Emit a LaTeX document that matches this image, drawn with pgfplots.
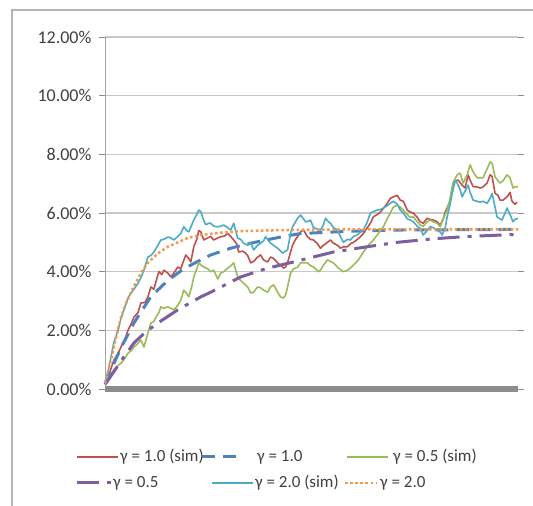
\documentclass[border=0pt]{standalone}
\usepackage{pgfplots}
\pgfplotsset{compat=1.18}
\usepackage{pgfplotstable}
\usepackage{fontspec}
\setmainfont{Carlito}

\definecolor{cRed}{HTML}{C0504D}
\definecolor{cBlue}{HTML}{4F81BD}
\definecolor{cGreen}{HTML}{9BBB59}
\definecolor{cPurple}{HTML}{7D5FA0}
\definecolor{cCyan}{HTML}{4BACC6}
\definecolor{cOrange}{HTML}{F79646}
\definecolor{cText}{HTML}{404040}
\definecolor{cGrid}{HTML}{C8C8C8}
\definecolor{cAxis}{HTML}{8C8C8C}

% theoretical curves (t, rate in %)
\pgfplotstableread{
t rate
104 0.2
110 1.0
114 1.6
120 2.45
126 3.0
133 3.5
140 3.95
147 4.3
157 4.62
167 4.85
177 5.0
187 5.15
200 5.25
220 5.33
240 5.38
270 5.41
304 5.43
354 5.44
404 5.44
518 5.44
}\theoryTwo

\pgfplotstableread{
t rate
104 0.2
110 0.65
120 1.4
133 2.25
150 3.15
167 3.7
183 4.1
200 4.4
210 4.57
230 4.8
250 4.97
280 5.18
300 5.3
350 5.38
400 5.42
518 5.44
}\theoryOne

\pgfplotstableread{
t rate
104 0.15
110 0.45
120 0.95
133 1.57
145 1.95
157 2.25
177 2.7
200 3.14
210 3.3
240 3.82
267 4.12
293 4.33
307 4.45
333 4.67
367 4.85
397 5.0
433 5.12
467 5.2
510 5.26
518 5.27
}\theoryHalf

% simulated paths
\pgfplotstableread{
t rate
104 0.2
108 0.5
113 0.99
117 1.2
120 1.43
124 1.7
127 2.0
130 2.2
133 2.45
137 2.6
140 2.93
144 2.95
147 3.14
150 3.48
153 3.4
155 3.65
158 4.0
161 3.9
163 4.05
167 3.95
170 3.82
174 4.0
177 4.16
180 4.1
182 4.3
185 4.57
188 4.45
190 4.33
193 4.85
196 5.1
198 5.4
200 5.36
203 5.08
207 5.15
210 5.2
213 5.08
217 5.15
220 5.19
224 5.22
227 5.3
230 5.2
233 5.08
236 4.95
238 4.67
242 4.7
245 4.63
247 4.55
250 4.3
253 4.35
257 4.5
260 4.57
263 4.4
267 4.33
270 4.5
273 4.45
277 4.3
280 4.22
283 4.12
285 4.16
287 4.3
290 4.67
292 4.9
295 5.1
297 5.19
300 5.36
303 5.42
307 5.19
310 5.1
313 5.08
317 4.95
320 4.8
323 4.9
327 5.0
330 5.08
333 4.97
337 4.9
340 4.8
343 4.85
347 4.85
350 4.95
353 5.0
357 5.1
360 5.19
363 5.3
367 5.5
370 5.65
373 5.87
377 5.95
380 6.03
384 6.2
387 6.33
390 6.5
393 6.55
397 6.6
400 6.44
403 6.4
407 6.1
410 6.03
413 6.0
417 5.85
420 5.7
423 5.65
427 5.82
430 5.78
433 5.76
437 5.7
440 5.59
443 5.8
445 6.03
448 6.25
450 6.44
453 7.02
455 7.1
458 7.12
462 6.95
465 6.85
468 7.3
470 7.12
473 6.9
477 6.89
480 6.85
483 6.89
487 7.02
490 7.3
492 7.25
495 6.67
498 6.6
500 6.44
503 6.44
507 6.55
510 6.7
512 6.4
515 6.3
517 6.37
}\simOne

\pgfplotstableread{
t rate
104 0.15
108 0.4
113 0.65
117 0.8
120 0.88
124 1.05
127 1.22
130 1.3
133 1.43
137 1.55
140 1.67
143 1.43
147 1.9
150 2.25
153 2.3
155 2.45
158 2.6
160 2.8
163 2.75
167 2.8
170 2.75
173 2.7
177 2.85
180 3.03
183 3.37
186 3.25
188 3.14
191 3.5
193 3.82
196 4.1
198 4.3
201 4.2
203 4.16
207 4.1
210 4.0
213 4.05
217 3.75
220 3.95
223 4.0
227 4.12
230 4.2
233 4.3
237 3.82
240 3.7
243 3.6
247 3.48
250 3.27
253 3.3
257 3.48
260 3.45
263 3.37
267 3.3
270 3.48
273 3.55
277 3.3
280 3.14
283 3.1
285 3.2
287 3.48
290 3.95
293 4.1
297 4.15
300 4.3
303 4.3
307 4.3
310 4.2
313 4.16
318 4.0
320 4.05
323 4.22
327 4.4
330 4.35
333 4.3
338 4.12
343 4.0
347 4.05
350 4.12
353 4.22
358 4.4
363 4.67
368 4.9
373 5.08
378 5.3
383 5.53
388 5.87
393 6.2
397 6.27
400 6.2
403 6.1
407 5.95
410 5.85
413 5.87
417 5.7
420 5.59
423 5.55
427 5.7
430 5.76
433 5.7
437 5.65
440 5.53
443 5.8
447 6.1
450 6.5
453 7.05
457 7.3
460 7.36
463 7.02
467 7.3
470 7.64
473 7.4
477 7.2
480 7.2
483 7.2
487 7.5
490 7.74
492 7.7
495 7.23
498 7.1
500 7.02
503 7.1
507 7.3
510 7.2
513 6.85
515 6.9
518 6.89
}\simHalf

\pgfplotstableread{
t rate
104 0.2
107 0.6
110 1.1
113 1.6
117 2.0
120 2.4
123 2.7
127 3.1
130 3.27
133 3.4
137 3.6
140 3.8
143 4.05
147 4.5
150 4.55
153 4.67
157 4.9
160 5.08
163 5.1
167 5.18
170 5.15
173 5.08
177 5.2
180 5.3
183 5.53
186 5.4
188 5.36
191 5.6
193 5.76
196 5.95
198 6.1
200 6.05
203 5.75
205 5.6
208 5.65
210 5.65
213 5.55
217 5.53
220 5.55
223 5.59
227 5.5
230 5.42
233 5.65
235 5.4
237 5.14
240 5.1
243 4.97
247 4.9
250 5.0
253 4.74
257 4.9
260 4.97
263 5.05
265 5.19
268 5.05
270 4.97
273 4.9
277 4.8
280 4.7
282 4.63
285 4.7
287 4.74
290 5.3
292 5.53
295 5.7
297 5.82
300 5.93
303 5.8
305 5.7
308 5.72
310 5.76
313 5.5
317 5.45
320 5.42
323 5.6
325 5.82
328 5.7
330 5.65
333 5.5
337 5.42
340 5.2
343 5.0
347 5.1
350 5.08
353 5.2
357 5.25
360 5.35
363 5.42
367 5.7
370 6.0
373 6.05
377 6.1
380 6.12
383 6.17
387 6.25
390 6.33
393 6.4
397 6.3
400 6.1
403 6.0
407 5.8
410 5.76
413 5.7
417 5.55
420 5.48
423 5.25
427 5.4
430 5.53
433 5.5
437 5.42
440 5.35
442 5.25
445 5.5
447 5.87
450 6.3
452 6.67
455 7.1
457 7.02
460 6.8
462 6.55
465 6.75
468 6.95
470 6.7
473 6.44
477 6.4
480 6.37
483 6.4
487 6.33
490 6.5
492 6.67
495 6.2
497 5.87
500 5.8
502 5.76
505 6.0
507 6.17
510 5.95
513 5.7
515 5.78
518 5.82
}\simTwo

\tikzset{
  simline/.style={line width=1.6pt, line join=round},
  dashOne/.style={cBlue, line width=3pt, dash pattern=on 13pt off 8pt},
  dashHalf/.style={cPurple, line width=3pt, dash pattern=on 22pt off 8pt on 4pt off 8pt},
  dotTwo/.style={cOrange, line width=2.5pt, dash pattern=on 2.5pt off 2.6pt},
}

\begin{document}
\begin{tikzpicture}
\useasboundingbox (0pt,0pt) rectangle (533pt,506pt);
% chart area frame
\draw[cGrid!90!black, line width=1.3pt] (12pt,0pt) -- (12pt,496pt) -- (533pt,496pt);

\begin{axis}[
  at={(105pt,117pt)}, anchor=south west,
  scale only axis, width=413pt, height=352pt,
  xmin=104, xmax=518, ymin=0, ymax=12,
  xtick=\empty,
  ytick={0,2,...,12},
  yticklabel={\pgfmathprintnumber[fixed,fixed zerofill,precision=2,assume math mode=true]{\tick}\%},
  yticklabel style={font=\fontsize{18}{21}\selectfont, text=cText, xshift=-4pt},
  tick align=outside, major tick length=6pt,
  ytick style={cAxis, line width=0.8pt},
  ymajorgrids, grid style={cGrid, line width=1.2pt},
  axis line style={draw=none},
  clip=false,
]
\addplot[simline, cRed] table {\simOne};
\addplot[dashOne] table {\theoryOne};
\addplot[simline, cGreen] table {\simHalf};
\addplot[dashHalf] table {\theoryHalf};
\addplot[simline, cCyan] table {\simTwo};
\addplot[dotTwo] table {\theoryTwo};
% axes
\draw[cAxis!80, line width=1pt] (axis cs:104,0) -- (axis cs:104,12);
\draw[cAxis, line width=6pt] (axis cs:104,0) -- (axis cs:518,0);
\end{axis}

% legend
\begin{scope}[every node/.style={anchor=west, inner sep=0pt, text=cText, font=\fontsize{17}{20}\selectfont}]
\draw[cRed, line width=1.6pt] (77pt,49pt) -- (118pt,49pt);
\node at (120pt,49pt) {γ = 1.0 (sim)};
\draw[dashOne] (202pt,49pt) -- (240pt,49pt);
\node at (257pt,49pt) {γ = 1.0};
\draw[cGreen, line width=1.6pt] (347pt,49pt) -- (388pt,49pt);
\node at (393pt,49pt) {γ = 0.5 (sim)};
\draw[dashHalf] (77pt,23pt) -- (112pt,23pt);
\node at (113pt,23pt) {γ = 0.5};
\draw[cCyan, line width=1.6pt] (212pt,23pt) -- (253pt,23pt);
\node at (255pt,23pt) {γ = 2.0 (sim)};
\draw[dotTwo] (345pt,23pt) -- (377pt,23pt);
\node at (380pt,23pt) {γ = 2.0};
\end{scope}
\end{tikzpicture}
\end{document}
